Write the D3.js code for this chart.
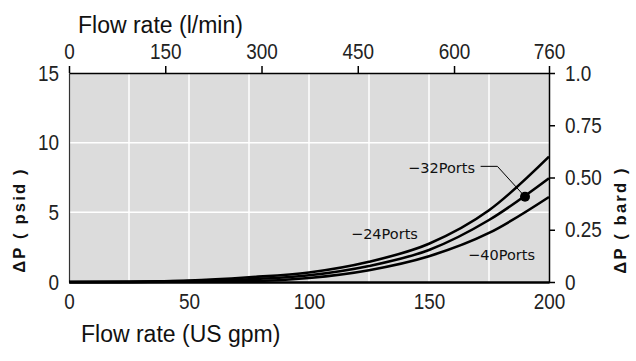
<!DOCTYPE html>
<html>
<head>
<meta charset="utf-8">
<script src="https://cdn.jsdelivr.net/npm/d3@7"></script>
<style>
  body { margin: 0; background: #fff; }
  svg { display: block; }
  .tick text { font-family: "Liberation Sans", Arial, sans-serif; font-size: 22px; fill: #222; }
</style>
</head>
<body>
<div id="chart"></div>
<script>
// flow in US gpm
const flowGpm = [0, 25, 50, 75, 100, 125, 150, 175, 200];
// pressure drop in psid
const ports24 = [0, 0.02, 0.1, 0.34, 0.68, 1.45, 2.75, 5.15, 9.0];
const ports32 = [0, 0.01, 0.06, 0.19, 0.48, 1.15, 2.3, 4.45, 7.45];
const ports40 = [0, 0, 0.03, 0.06, 0.29, 0.85, 1.85, 3.52, 6.1];
const seriesNames = ['-24Ports', '-32Ports', '-40Ports'];

const bottomTicks = [0, 50, 100, 150, 200];
const leftTicks = [0, 5, 10, 15];
const gridGpm = [25, 50, 75, 100, 125, 150, 175];
const gridPsid = [5, 10];
const topTicks = [0, 150, 300, 450, 600, 748];
const topLabels = ['0', '150', '300', '450', '600', '760'];
const rightTicks = [0, 0.25, 0.5, 0.75, 1.0];
const rightLabels = ['0', '0.25', '0.50', '0.75', '1.0'];

// marked point on the -32 curve
const marker = { q: 190, p: 6.12 };

const W = 636, H = 361;
const plotL = 69, plotR = 549, plotT = 73, plotB = 282;
const narrow = 0.86; // tick digits are condensed in the original

const svg = d3.select('#chart').append('svg')
  .attr('width', W).attr('height', H);

const x = d3.scaleLinear().domain([0, 200]).range([plotL, plotR]);
const y = d3.scaleLinear().domain([0, 15]).range([plotB, plotT]);
const xTop = d3.scaleLinear().domain([0, 748]).range([plotL, plotR]);
const yRight = d3.scaleLinear().domain([0, 1]).range([plotB, plotT]);

svg.append('rect')
  .attr('x', plotL).attr('y', plotT)
  .attr('width', plotR - plotL).attr('height', plotB - plotT)
  .attr('fill', '#dcdcdc');

svg.selectAll('.vgrid').data(gridGpm).enter().append('line')
  .attr('x1', d => x(d)).attr('x2', d => x(d))
  .attr('y1', plotT).attr('y2', plotB)
  .attr('stroke', '#fff').attr('stroke-width', 1.5);

svg.selectAll('.hgrid').data(gridPsid).enter().append('line')
  .attr('x1', plotL).attr('x2', plotR)
  .attr('y1', d => y(d)).attr('y2', d => y(d))
  .attr('stroke', '#fff').attr('stroke-width', 1.5);

// axes
const gBottom = svg.append('g').attr('transform', `translate(0,${plotB})`)
  .call(d3.axisBottom(x).tickValues(bottomTicks).tickSize(0).tickPadding(11));
gBottom.select('.domain').attr('stroke', '#000').attr('stroke-width', 2.5);

const gLeft = svg.append('g').attr('transform', `translate(${plotL},0)`)
  .call(d3.axisLeft(y).tickValues(leftTicks).tickSize(0).tickPadding(10));
gLeft.select('.domain').attr('stroke', '#333').attr('stroke-width', 1.2);

const gTop = svg.append('g').attr('transform', `translate(0,${plotT})`)
  .call(d3.axisTop(xTop).tickValues(topTicks).tickSizeInner(7).tickSizeOuter(0).tickPadding(7)
    .tickFormat((d, i) => topLabels[i]));
gTop.selectAll('line, .domain').attr('stroke', '#000').attr('stroke-width', 1.5);

const gRight = svg.append('g').attr('transform', `translate(${plotR},0)`)
  .call(d3.axisRight(yRight).tickValues(rightTicks).tickSizeInner(6).tickSizeOuter(0).tickPadding(10)
    .tickFormat((d, i) => rightLabels[i]));
gRight.selectAll('line, .domain').attr('stroke', '#000').attr('stroke-width', 1.5);

// squeeze the tick text horizontally, keeping its anchor point fixed
[gBottom, gLeft, gTop, gRight].forEach(g => {
  g.selectAll('.tick text').each(function() {
    const t = d3.select(this);
    const tx = +t.attr('x') || 0;
    t.attr('x', tx / narrow).attr('transform', `scale(${narrow},1)`);
  });
});

// curves
const line = d3.line()
  .x((d, i) => x(flowGpm[i]))
  .y(d => y(d))
  .curve(d3.curveMonotoneX);

[ports24, ports32, ports40].forEach(s => {
  svg.append('path')
    .attr('d', line(s))
    .attr('fill', 'none')
    .attr('stroke', '#000')
    .attr('stroke-width', 2.6);
});

// labels
const labelFont = '"DejaVu Sans", sans-serif';
const labels = [
  { name: seriesNames[0], q: 117.5, p: 3.08 },
  { name: seriesNames[1], q: 141.3, p: 7.8 },
  { name: seriesNames[2], q: 166.3, p: 1.57 }
];
svg.selectAll('.lbl').data(labels).enter().append('text')
  .attr('x', d => x(d.q)).attr('y', d => y(d.p))
  .attr('font-family', labelFont).attr('font-size', 14.5)
  .attr('fill', '#111')
  .text(d => d.name.replace('-', '\u2212'));

// leader to the dot
svg.append('path')
  .attr('d', `M${x(171.5)},${y(8.3)}H${x(178.5)}L${x(marker.q)},${y(marker.p)}`)
  .attr('fill', 'none').attr('stroke', '#000').attr('stroke-width', 1);

svg.append('circle')
  .attr('cx', x(marker.q)).attr('cy', y(marker.p)).attr('r', 5)
  .attr('fill', '#000');

// titles
const titleFont = '"Liberation Sans", Arial, sans-serif';
svg.append('text').attr('x', 78).attr('y', 33)
  .attr('font-family', titleFont).attr('font-size', 23).attr('fill', '#111')
  .text('Flow rate (l/min)');
svg.append('text').attr('x', 81).attr('y', 342)
  .attr('font-family', titleFont).attr('font-size', 23).attr('fill', '#111')
  .text('Flow rate (US gpm)');

svg.append('text')
  .attr('transform', 'translate(25,220) rotate(-90)')
  .attr('text-anchor', 'middle')
  .attr('font-family', titleFont).attr('font-size', 16.5).attr('font-weight', 'bold')
  .attr('letter-spacing', 2.2).attr('fill', '#111')
  .text('\u0394P ( psid )');
svg.append('text')
  .attr('transform', 'translate(626,220) rotate(-90)')
  .attr('text-anchor', 'middle')
  .attr('font-family', titleFont).attr('font-size', 16.5).attr('font-weight', 'bold')
  .attr('letter-spacing', 2.2).attr('fill', '#111')
  .text('\u0394P ( bard )');
</script>
</body>
</html>
